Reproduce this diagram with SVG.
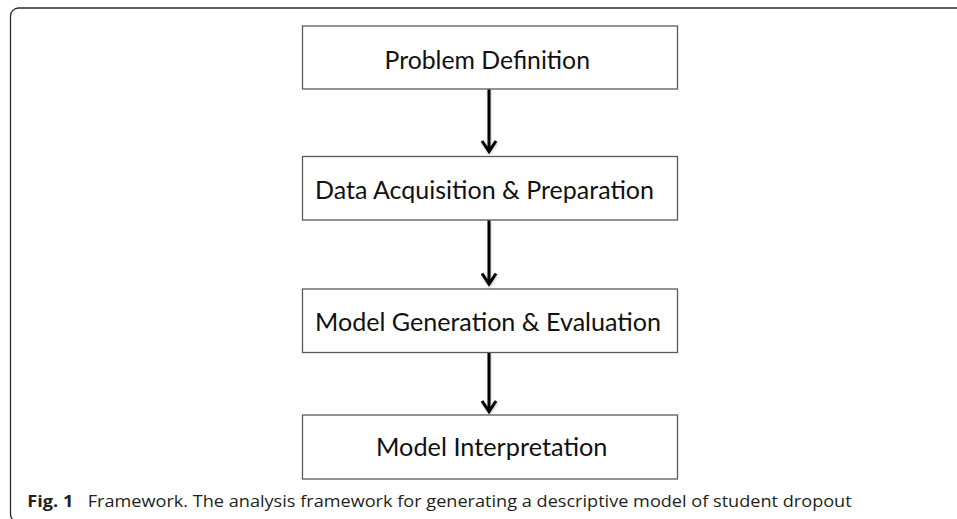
<svg xmlns="http://www.w3.org/2000/svg" width="957" height="519" viewBox="0 0 957 519">
  <defs>
    <style>
      .frame { fill: none; stroke: #2b2b2b; stroke-width: 1.3; }
      .box { fill: #ffffff; stroke: #5a5a5a; stroke-width: 1.3; }
      .label { font-family: "Lato", "Open Sans", "Liberation Sans", sans-serif; font-size: 24.5px; fill: #111111; }
      .edge { fill: none; stroke: #000000; stroke-width: 3; stroke-linecap: butt; stroke-linejoin: miter; }
      .cap { font-family: "Open Sans", "Noto Sans", "Liberation Sans", sans-serif; font-size: 16.5px; fill: #231f20; }
      .cap-b { font-weight: bold; }
    </style>
    <filter id="soft" x="-50%" y="-10%" width="200%" height="130%">
      <feDropShadow dx="0.6" dy="1" stdDeviation="0.8" flood-color="#000000" flood-opacity="0.25"/>
    </filter>
  </defs>

  <rect width="957" height="519" fill="#ffffff"/>

  <!-- figure panel outline, rounded at the left corners -->
  <rect class="frame" x="10.5" y="8" width="990" height="514" rx="8" ry="8"/>

  <!-- process steps -->
  <g id="problem-definition">
    <rect class="box" x="302.5" y="26" width="375" height="63"/>
    <text class="label" x="384.5" y="69" textLength="205.5" lengthAdjust="spacingAndGlyphs">Problem Definition</text>
  </g>

  <g id="data-acquisition">
    <rect class="box" x="302.5" y="156.5" width="375" height="63.5"/>
    <text class="label" x="315" y="198.5" textLength="339" lengthAdjust="spacingAndGlyphs">Data Acquisition &amp; Preparation</text>
  </g>

  <g id="model-generation">
    <rect class="box" x="302.5" y="289" width="375" height="63.5"/>
    <text class="label" x="315" y="331" textLength="346" lengthAdjust="spacingAndGlyphs">Model Generation &amp; Evaluation</text>
  </g>

  <g id="model-interpretation">
    <rect class="box" x="302.5" y="415" width="375" height="64"/>
    <text class="label" x="376" y="456" textLength="231.5" lengthAdjust="spacingAndGlyphs">Model Interpretation</text>
  </g>

  <!-- connectors: straight down with open chevron heads -->
  <g id="connectors" filter="url(#soft)">
    <path class="edge" d="M489 89.5 V151.5 M482 141 L489 151.5 L496 141"/>
    <path class="edge" d="M489 220.5 V284 M482 273.5 L489 284 L496 273.5"/>
    <path class="edge" d="M489 353 V411.5 M482 401 L489 411.5 L496 401"/>
  </g>

  <!-- caption -->
  <g id="caption">
    <text class="cap cap-b" x="27.3" y="506.5" textLength="46" lengthAdjust="spacingAndGlyphs">Fig. 1</text>
    <text class="cap" x="87.7" y="506.5" textLength="764" lengthAdjust="spacingAndGlyphs">Framework. The analysis framework for generating a descriptive model of student dropout</text>
  </g>
</svg>
